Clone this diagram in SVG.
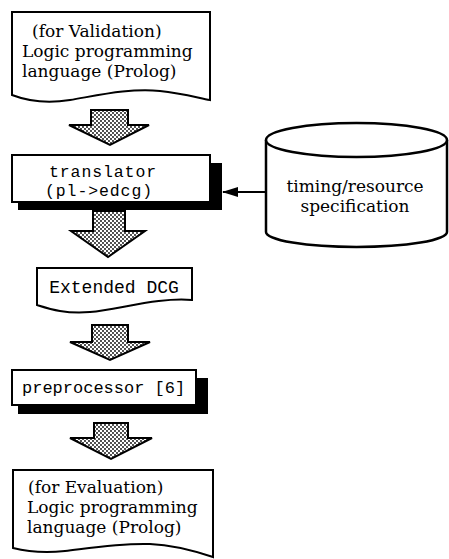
<svg xmlns="http://www.w3.org/2000/svg" width="449" height="559" viewBox="0 0 449 559">
<style>
.box{fill:#fff;stroke:#000;stroke-width:2}
.shadow{fill:#000}
.serif{font-family:"DejaVu Serif","Liberation Serif",serif;font-size:17px;fill:#000}
.mono{font-family:"Liberation Mono","Courier New",monospace;font-size:18px;fill:#000}
.tr{font-size:16.5px;letter-spacing:0.9px}
.blk{fill:url(#dots);stroke:#000;stroke-width:2;stroke-linejoin:miter}
.line{stroke:#000;stroke-width:2;fill:none}
</style>
<defs>
<pattern id="dots" width="4" height="4" patternUnits="userSpaceOnUse">
<rect width="4" height="4" fill="#fff"/>
<circle cx="1" cy="1" r="0.9" fill="#000"/>
<circle cx="3" cy="3" r="0.9" fill="#000"/>
</pattern>
<marker id="ah" markerWidth="16" markerHeight="10" refX="15" refY="5" orient="auto" markerUnits="userSpaceOnUse">
<path d="M0,0 L16,5 L0,10 Z" fill="#000"/>
</marker>
</defs>
<rect width="449" height="559" fill="#fff"/>

<g id="connectors">
<path class="blk" d="M91,110 H128 V125 H149 L110,145 L69,125 H91 Z"/>
<path class="blk" d="M93,211 H125 V231 H145 L108,257 L71,231 H93 Z"/>
<path class="blk" d="M92,325 H128 V342 H150 L110,360 L70,342 H92 Z"/>
<path class="blk" d="M94,423 H128 V438 H152 L111,459 L70,438 H94 Z"/>
<line class="line" x1="266" y1="192" x2="223" y2="192" marker-end="url(#ah)"/>
</g>

<g id="source">
<path class="box" d="M12,12 H210 V100 C195,97 180,93 160,91 C130,88 100,95 70,100 C45,104 25,100 12,95 Z"/>
<text class="serif" x="32" y="37">(for Validation)</text>
<text class="serif" x="22" y="57">Logic programming</text>
<text class="serif" x="22" y="77">language (Prolog)</text>
</g>

<g id="translator">
<rect class="shadow" x="18" y="163" width="204" height="47"/>
<rect class="box" x="12" y="155" width="198" height="47"/>
<text class="mono tr" x="49" y="177">translator</text>
<text class="mono tr" x="45" y="196">(pl-&gt;edcg)</text>
</g>

<g id="spec">
<path class="box" style="stroke-width:2.5" d="M266,140 V232 A90.5,15 0 0 0 447,232 V140"/>
<ellipse class="box" style="stroke-width:2.5" cx="356.5" cy="140" rx="90.5" ry="17"/>
<text class="serif" x="355" y="192" text-anchor="middle">timing/resource</text>
<text class="serif" x="355" y="212" text-anchor="middle">specification</text>
</g>

<g id="edcg">
<path class="box" d="M37,268 H192 V300 C160,297 120,309 90,312 C65,314 50,309 37,305 Z"/>
<text class="mono" x="114" y="293" text-anchor="middle">Extended DCG</text>
</g>

<g id="preprocessor">
<rect class="shadow" x="18" y="378" width="190" height="36"/>
<rect class="box" x="12" y="370" width="184" height="35"/>
<text class="mono" x="22" y="393" style="font-size:17px">preprocessor [6]</text>
</g>

<g id="target">
<path class="box" d="M13,470 H213 V557 C195,551 175,545 150,544 C120,543 90,548 65,551 C45,553 25,551 13,548 Z"/>
<text class="serif" x="28" y="493">(for Evaluation)</text>
<text class="serif" x="27" y="513">Logic programming</text>
<text class="serif" x="27" y="533">language (Prolog)</text>
</g>
</svg>
